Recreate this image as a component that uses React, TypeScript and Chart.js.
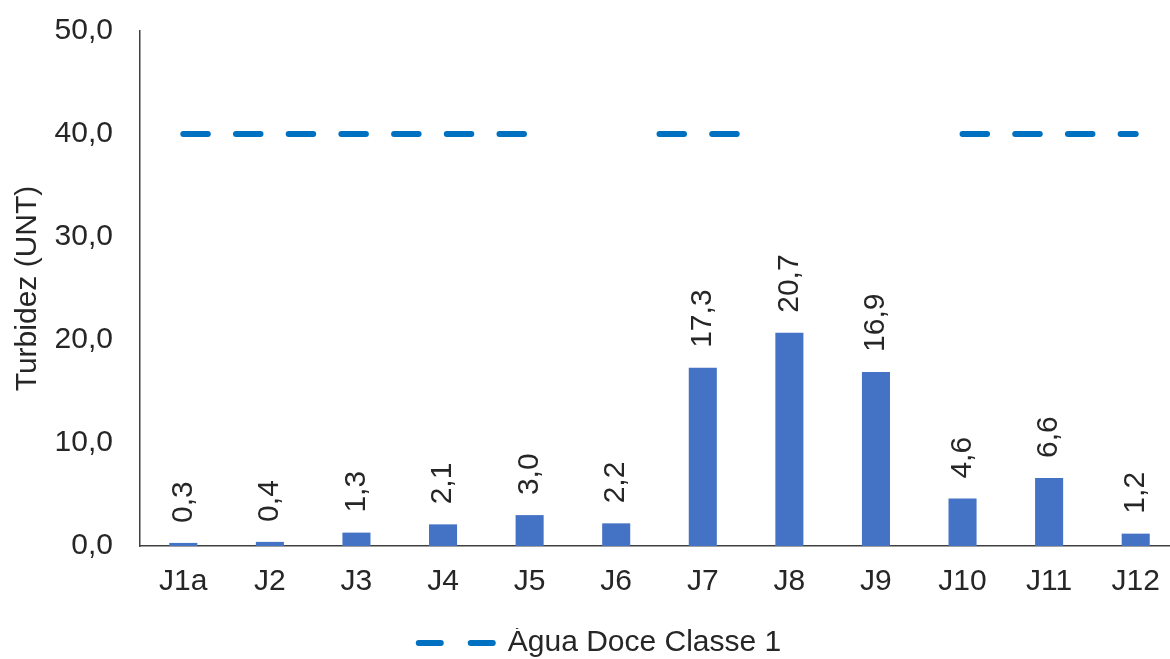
import React, { useEffect, useRef } from "react";
import { Chart, registerables } from "chart.js";

Chart.register(...registerables);

// ---- data ----
const categories = ["J1a", "J2", "J3", "J4", "J5", "J6", "J7", "J8", "J9", "J10", "J11", "J12"];
const turbidity = [0.3, 0.4, 1.3, 2.1, 3.0, 2.2, 17.3, 20.7, 16.9, 4.6, 6.6, 1.2];
const yTickValues = [0, 10, 20, 30, 40, 50];
const limitLabel = "Água Doce Classe 1";
const limitValue = 40;
// category-index ranges (start, end) along which the limit line is shown
const limitStarts = [0, 5.5, 9];
const limitEnds = [4, 6.4, 11];
const yTitle = "Turbidez (UNT)";

const FONT = "'Liberation Sans', Arial, sans-serif";
const TEXT = "#262626";
const BAR = "#4472C4";
const LINE = "#0070C0";
const AXIS = "#404040";

const fmt = (v: number) => v.toFixed(1).replace(".", ",");

function buildLimitPoints() {
  const pts: { x: number; y: number | null }[] = [];
  limitStarts.forEach((a, i) => {
    if (i > 0) pts.push({ x: (limitEnds[i - 1] + a) / 2, y: null });
    pts.push({ x: a, y: limitValue }, { x: limitEnds[i], y: limitValue });
  });
  return pts;
}

const barLabels = {
  id: "barLabels",
  afterDatasetsDraw(chart: any) {
    const meta = chart.getDatasetMeta(0);
    const ctx = chart.ctx;
    ctx.save();
    ctx.font = `30px ${FONT}`;
    ctx.fillStyle = TEXT;
    ctx.textAlign = "left";
    ctx.textBaseline = "middle";
    meta.data.forEach((bar: any, i: number) => {
      const { x, y } = bar.getProps(["x", "y"], true);
      ctx.save();
      ctx.translate(x, y - 20);
      ctx.rotate(-Math.PI / 2);
      ctx.fillText(fmt(turbidity[i]), 0, 0);
      ctx.restore();
    });
    ctx.restore();
  },
};

export default function App() {
  const ref = useRef<HTMLCanvasElement | null>(null);

  useEffect(() => {
    document.documentElement.style.overflow = "hidden";
    const canvas = ref.current;
    if (!canvas) return;
    const chart = new Chart(canvas, {
      type: "bar",
      data: {
        labels: categories,
        datasets: [
          {
            type: "bar",
            label: yTitle,
            data: turbidity,
            backgroundColor: BAR,
            borderWidth: 0,
            grouped: false,
            barPercentage: 0.324,
            categoryPercentage: 1,
            xAxisID: "x",
            yAxisID: "y",
            order: 2,
          } as any,
          {
            type: "line",
            label: limitLabel,
            data: buildLimitPoints(),
            xAxisID: "x2",
            yAxisID: "y",
            borderColor: LINE,
            backgroundColor: LINE,
            borderWidth: 6,
            borderDash: [24.5, 28.2],
            borderCapStyle: "round",
            pointRadius: 0,
            pointHoverRadius: 0,
            spanGaps: false,
            fill: false,
            order: 1,
          } as any,
        ],
      },
      options: {
        responsive: false,
        animation: false,
        events: [],
        layout: { padding: { left: 21, right: 21, top: 31, bottom: 0 } },
        scales: {
          x: {
            type: "category",
            offset: true,
            grid: { display: false, drawTicks: false },
            border: { display: true, color: AXIS, width: 1.5 },
            ticks: {
              color: TEXT,
              font: { family: FONT, size: 30 },
              padding: 18,
              maxRotation: 0,
              autoSkip: false,
            },
            afterFit: (s: any) => {
              s.height = 82;
            },
          },
          x2: {
            type: "linear",
            display: false,
            offset: false,
            min: -0.5,
            max: categories.length - 0.5,
          },
          y: {
            type: "linear",
            min: 0,
            max: 50,
            grid: { display: false, drawTicks: false },
            border: { display: true, color: AXIS, width: 1.5 },
            afterBuildTicks: (s: any) => {
              s.ticks = yTickValues.map((v) => ({ value: v }));
            },
            ticks: {
              color: TEXT,
              font: { family: FONT, size: 30 },
              padding: 27,
              callback: (v: any) => fmt(Number(v)),
            },
            title: {
              display: true,
              text: yTitle,
              color: TEXT,
              font: { family: FONT, size: 30, lineHeight: 0.4 },
              padding: { top: 1, bottom: 0 },
            },
            afterFit: (s: any) => {
              s.width = 119;
              s.paddingTop = 0;
              s.paddingBottom = 0;
            },
          },
        },
        plugins: {
          tooltip: { enabled: false },
          legend: {
            position: "bottom",
            labels: {
              usePointStyle: true,
              pointStyle: "line",
              pointStyleWidth: 74,
              boxHeight: 20,
              padding: 0,
              color: TEXT,
              font: { family: FONT, size: 30 },
              filter: (item: any) => item.datasetIndex === 1,
              generateLabels: (c: any) =>
                (Chart.defaults.plugins.legend.labels.generateLabels as any)(c).map((l: any) => ({
                  ...l,
                  lineDash: [22, 30],
                  lineWidth: 6,
                  lineCap: "round",
                  pointStyle: "line",
                })),
            },
          },
        },
      } as any,
      plugins: [barLabels],
    });
    return () => chart.destroy();
  }, []);

  return (
    <div style={{ position: "fixed", left: 0, top: 0, width: 1200, height: 668, background: "#fff" }}>
      <canvas ref={ref} width={1200} height={668} style={{ width: 1200, height: 668, display: "block" }} />
    </div>
  );
}
